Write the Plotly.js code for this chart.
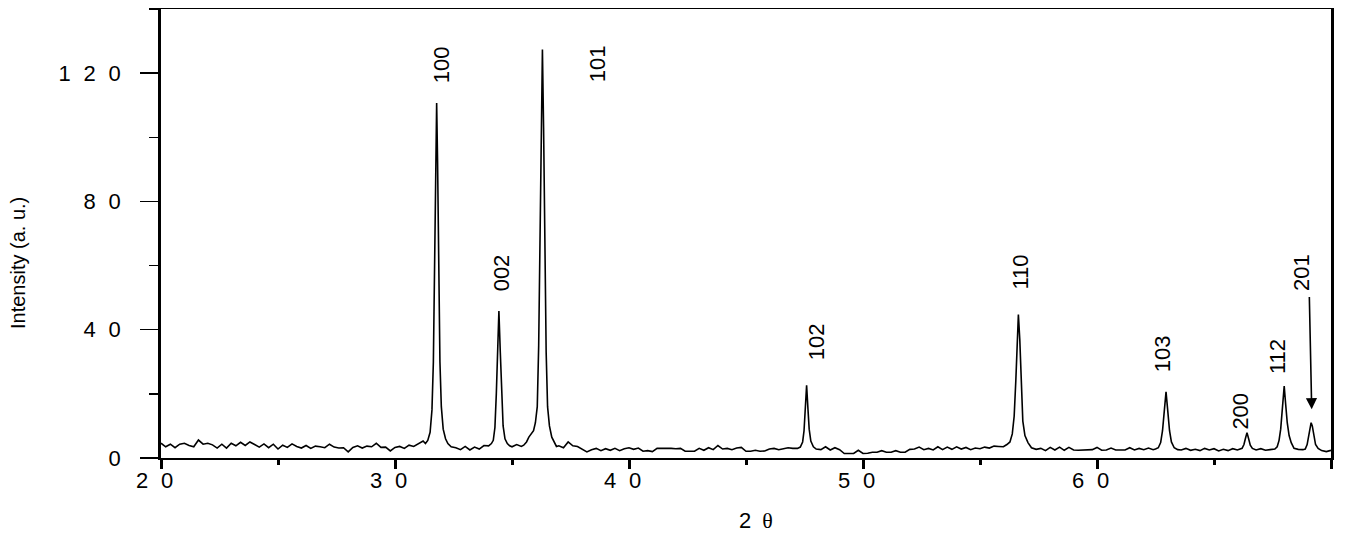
<!DOCTYPE html>
<html>
<head>
<meta charset="utf-8">
<script src="https://cdn.plot.ly/plotly-3.0.1.min.js"></script>
<style>
html,body{margin:0;padding:0;background:#ffffff;}
#chart{width:1349px;height:537px;}
</style>
</head>
<body>
<div id="chart"></div>
<script>
// ---- XRD scan: background read on a 0.2 deg grid (null = covered by a peak profile) ----
const scanStart = 20.0;
const scanStep = 0.2;
const background = [
  4.6,3.5,4.3,3.2,4.3,4.6,3.9,3.5,5.6,4.3,
  4.6,4.1,3.1,4.3,3.1,4.6,3.8,4.9,3.9,5.0,
  4.2,3.4,4.4,3.2,4.3,2.8,4.0,3.3,4.4,3.6,
  3.1,3.9,3.0,3.7,3.5,3.2,4.3,3.4,3.1,3.2,
  1.9,3.3,3.8,3.1,3.7,3.5,4.6,3.3,3.4,2.2,
  3.3,3.6,3.0,4.0,3.6,4.5,5.3,null,null,null,
  null,null,null,3.2,2.6,3.6,2.5,3.4,2.8,3.9,
  null,null,null,null,null,3.5,4.2,3.6,null,null,
  null,null,null,null,null,3.8,3.2,5.0,3.8,3.6,
  2.8,1.9,2.6,3.0,2.3,2.9,2.4,3.0,2.3,2.9,
  3.2,2.7,3.1,2.1,2.3,2.0,3.0,3.0,3.2,3.0,
  2.9,3.0,2.1,2.1,2.1,3.0,2.4,3.2,2.6,3.9,
  2.8,3.0,2.6,3.1,3.3,2.1,2.1,2.4,2.1,2.2,
  2.8,3.0,2.6,2.9,3.2,3.0,null,null,null,null,
  null,2.6,3.5,2.5,3.2,2.6,1.4,1.5,1.4,2.4,
  1.4,1.5,1.8,1.8,2.3,1.8,1.8,2.3,1.8,1.8,
  2.7,2.8,3.4,2.6,3.0,2.5,3.5,2.6,3.4,2.7,
  3.5,2.8,3.3,2.6,3.1,2.9,3.4,3.1,3.7,3.6,
  null,null,null,null,null,null,null,2.7,3.0,2.3,
  3.3,2.5,3.4,2.4,3.3,2.5,2.4,2.5,2.4,2.6,
  3.3,2.4,2.5,3.1,2.5,2.5,2.5,3.2,2.5,3.0,
  2.6,3.1,2.6,null,null,null,null,null,2.5,3.0,
  2.4,2.7,2.3,3.0,2.5,2.9,2.2,2.7,2.3,2.9,
  2.5,null,null,null,2.5,2.9,2.4,2.6,null,null,
  null,null,null,2.7,2.6,null,null,null,2.3,2.0,
  2.4
];

// ---- Peak profiles (2theta, intensity) ----
const p100Theta  = [31.30,31.40,31.50,31.58,31.64,31.70,31.74,31.78,31.82,31.86,31.92,31.98,32.06,32.16,32.26,32.40];
const p100Counts = [4.5,5.5,8.0,15,30,62,90,110.7,92,64,30,16,9.0,6.0,4.5,3.5];

const p002Theta  = [34.00,34.12,34.20,34.27,34.33,34.38,34.44,34.50,34.56,34.62,34.70,34.80,34.90];
const p002Counts = [3.8,4.5,5.5,9.5,20,34,45.8,33,19,10,6.0,4.5,3.8];

const p101Theta  = [35.50,35.62,35.72,35.84,35.92,36.00,36.08,36.14,36.20,36.25,36.30,36.35,36.40,36.46,36.52,36.60,36.70,36.80,36.90];
const p101Counts = [4.0,5.0,6.5,7.5,8.5,11,16,35,70,105,127.4,103,68,33,16,10,6.5,5.0,3.6];

const p102Theta  = [47.20,47.32,47.42,47.48,47.53,47.59,47.65,47.70,47.77,47.88,48.00];
const p102Counts = [3.0,3.4,5.0,8.5,15,22.7,15,9.0,5.3,3.5,2.8];

const p110Theta  = [56.00,56.15,56.28,56.38,56.46,56.53,56.59,56.64,56.70,56.76,56.83,56.92,57.05,57.20];
const p110Counts = [3.5,4.2,5.0,7.5,13,24,38,44.7,37,22,11.5,7.0,4.8,3.2];

const p103Theta  = [62.50,62.62,62.72,62.80,62.88,62.95,63.02,63.10,63.18,63.30,63.45];
const p103Counts = [2.8,3.2,4.8,8.5,15,20.6,15,8.5,5.0,3.2,2.6];

const p200Theta  = [66.20,66.28,66.34,66.41,66.48,66.55,66.64];
const p200Counts = [3.0,4.2,6.0,7.9,6.0,4.0,3.0];

const p112Theta  = [67.60,67.70,67.78,67.85,67.92,68.00,68.06,68.13,68.21,68.30,68.42,68.55];
const p112Counts = [2.8,3.5,5.5,9.0,16,22.4,17,11,7.0,4.8,3.0,2.6];

const p201Theta  = [68.90,68.98,69.05,69.10,69.15,69.20,69.26,69.34,69.45,69.56];
const p201Counts = [2.8,4.2,7.5,10,11.0,10,7.0,4.2,3.0,2.5];

// ---- Labels ----
const hklLabels = ['100','002','101','102','110','103','200','112','201'];
const xTickVals = [20,30,40,50,60,70];
const yTickVals = [0,40,80,120];
const xTitle = '2';
const xTitleSymbol = 'θ';
const yTitle = 'Intensity (a. u.)';

// ---- build the combined scan ----
const pts = [];
background.forEach((v,i)=>{ if(v!==null) pts.push([+(scanStart+i*scanStep).toFixed(2), v]); });
[[p100Theta,p100Counts],[p002Theta,p002Counts],[p101Theta,p101Counts],[p102Theta,p102Counts],
 [p110Theta,p110Counts],[p103Theta,p103Counts],[p200Theta,p200Counts],[p112Theta,p112Counts],
 [p201Theta,p201Counts]].forEach(([t,c])=>{ t.forEach((x,k)=>pts.push([x,c[k]])); });
pts.sort((a,b)=>a[0]-b[0]);
const twoTheta = pts.map(p=>p[0]);
const intensity = pts.map(p=>p[1]);

// spaced digit tick text (e.g. "1 2 0")
const SEP = '\u2002\u200A';
const spaced = v => String(v).split('').join(SEP) + SEP;

const sans = 'Liberation Sans, Arial, Helvetica, sans-serif';

// label positions (style/layout, not data)
const labelPos = [
  [31.97,122.5],[34.59,57.7],[38.65,122.9],[47.99,36.4],[56.75,58.1],
  [62.80,32.5],[66.13,14.6],[67.71,31.6],[68.76,58.0]
];

const annotations = hklLabels.map((t,i)=>({
  text:t, x:labelPos[i][0], y:labelPos[i][1], xref:'x', yref:'y',
  showarrow:false, textangle:-90, xanchor:'center', yanchor:'middle',
  font:{family:sans,size:22,color:'#000'}
}));
annotations.push({
  text:'', x:69.175, y:15.2, ax:69.073, ay:50.7, xref:'x', yref:'y', axref:'x', ayref:'y',
  showarrow:true, arrowhead:2, arrowsize:1.4, arrowwidth:1.6, arrowcolor:'#000', standoff:0
});
annotations.push({
  text: xTitle + '\u2002<span style="font-family:Liberation Serif, DejaVu Serif, serif">' + xTitleSymbol + '</span>',
  xref:'paper', yref:'paper', x:0.5085, y:-0.1403, showarrow:false,
  xanchor:'center', yanchor:'middle', font:{family:sans,size:22,color:'#000'}
});
annotations.push({
  text: yTitle, xref:'paper', yref:'paper', x:-0.1222, y:0.4343, showarrow:false,
  textangle:-90, xanchor:'center', yanchor:'middle', font:{family:sans,size:20,color:'#000'}
});

const trace = {
  x: twoTheta, y: intensity, type:'scatter', mode:'lines',
  line:{color:'#000', width:1.6}, hoverinfo:'skip'
};

const layout = {
  width:1349, height:537,
  margin:{l:161, r:18, t:9, b:79, pad:0},
  paper_bgcolor:'#fff', plot_bgcolor:'#fff',
  showlegend:false,
  xaxis:{
    range:[20,70], tickmode:'array', tickvals:xTickVals, ticktext:xTickVals.map(spaced),
    ticks:'outside', ticklen:9, tickwidth:3, tickcolor:'#000',
    showline:true, linewidth:1.5, linecolor:'#000', mirror:true,
    showgrid:false, zeroline:false, ticklabelstandoff:-7,
    tickfont:{family:sans, size:22, color:'#000'},
    minor:{tickmode:'array', tickvals:[25,35,45,55,65], ticks:'outside', ticklen:5, tickwidth:3, tickcolor:'#000', showgrid:false}
  },
  yaxis:{
    range:[0,140], tickmode:'array', tickvals:yTickVals, ticktext:yTickVals.map(spaced),
    ticks:'outside', ticklen:18, tickwidth:1.5, tickcolor:'#000',
    showline:true, linewidth:3, linecolor:'#000', mirror:true,
    showgrid:false, zeroline:false, ticklabelstandoff:2,
    tickfont:{family:sans, size:22, color:'#000'},
    minor:{tickmode:'array', tickvals:[20,60,100,140], ticks:'outside', ticklen:9, tickwidth:1.5, tickcolor:'#000', showgrid:false}
  },
  annotations: annotations
};

Plotly.newPlot('chart', [trace], layout, {displayModeBar:false, staticPlot:true});
</script>
</body>
</html>
